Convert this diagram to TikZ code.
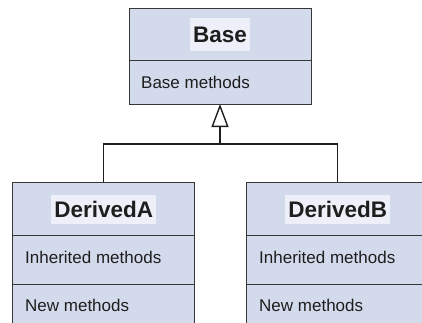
\documentclass[tikz,border=0pt]{standalone}
\usepackage{fontspec}
\setmainfont{Liberation Sans}
\usetikzlibrary{arrows.meta}
\definecolor{classfill}{RGB}{211,218,236}
\definecolor{namefill}{RGB}{237,240,248}
\definecolor{rule}{RGB}{55,55,55}
\definecolor{ink}{RGB}{30,30,30}
\begin{document}
\begin{tikzpicture}[x=1pt,y=-1pt,
  part/.style={draw=rule, line width=0.9pt, fill=classfill, anchor=north west,
    inner sep=0pt, outer sep=0pt, minimum width=182pt},
  classname/.style={fill=namefill, text=ink,
    font=\fontsize{22.5}{24}\selectfont\bfseries,
    inner xsep=3pt, inner ysep=0pt},
  member/.style={text=ink, font=\fontsize{17}{19}\selectfont,
    anchor=base west, inner sep=0pt},
  link/.style={draw=ink, line width=1.4pt},
]
\useasboundingbox (0,0) rectangle (422,322);
\clip (0,0) rectangle (422,322);

% Base class: name and methods compartments
\node[part, minimum height=52.5pt] (baseTop) at (129,8) {};
\node[part, minimum height=43.5pt] (baseBody) at (129,60.5) {};
\node[classname, minimum height=33pt] (baseName) at ([yshift=-0.4pt]baseTop.center) {Base};
\node[member] (baseMeth) at (141,88.3) {Base methods};

% DerivedA: name, inherited and new methods compartments
\node[part, minimum height=53pt] (aTop) at (12.7,182) {};
\node[part, minimum height=49pt] (aInh) at (12.7,235) {};
\node[part, minimum height=60pt] (aNew) at (12.7,284) {};
\node[classname, minimum height=29pt] (aName) at ([yshift=-1.2pt]aTop.center) {DerivedA};
\node[member] (aInhText) at (25,263.3) {Inherited methods};
\node[member] (aNewText) at (25,311.3) {New methods};

% DerivedB: same layout, further right
\node[part, minimum height=53pt] (bTop) at (246.7,182) {};
\node[part, minimum height=49pt] (bInh) at (246.7,235) {};
\node[part, minimum height=60pt] (bNew) at (246.7,284) {};
\node[classname, minimum height=29pt] (bName) at ([yshift=-1.2pt]bTop.center) {DerivedB};
\node[member] (bInhText) at (259,263.3) {Inherited methods};
\node[member] (bNewText) at (259,311.3) {New methods};

% Generalisation: both derived classes join, then point up to Base
\coordinate (joint) at (220,144);
\draw[link] (aTop.north) |- (joint) -| (bTop.north);
\draw[link, -{Triangle[open, width=17pt, length=23pt, line width=1.4pt]}]
  (joint) -- (baseBody.south);
\end{tikzpicture}
\end{document}
